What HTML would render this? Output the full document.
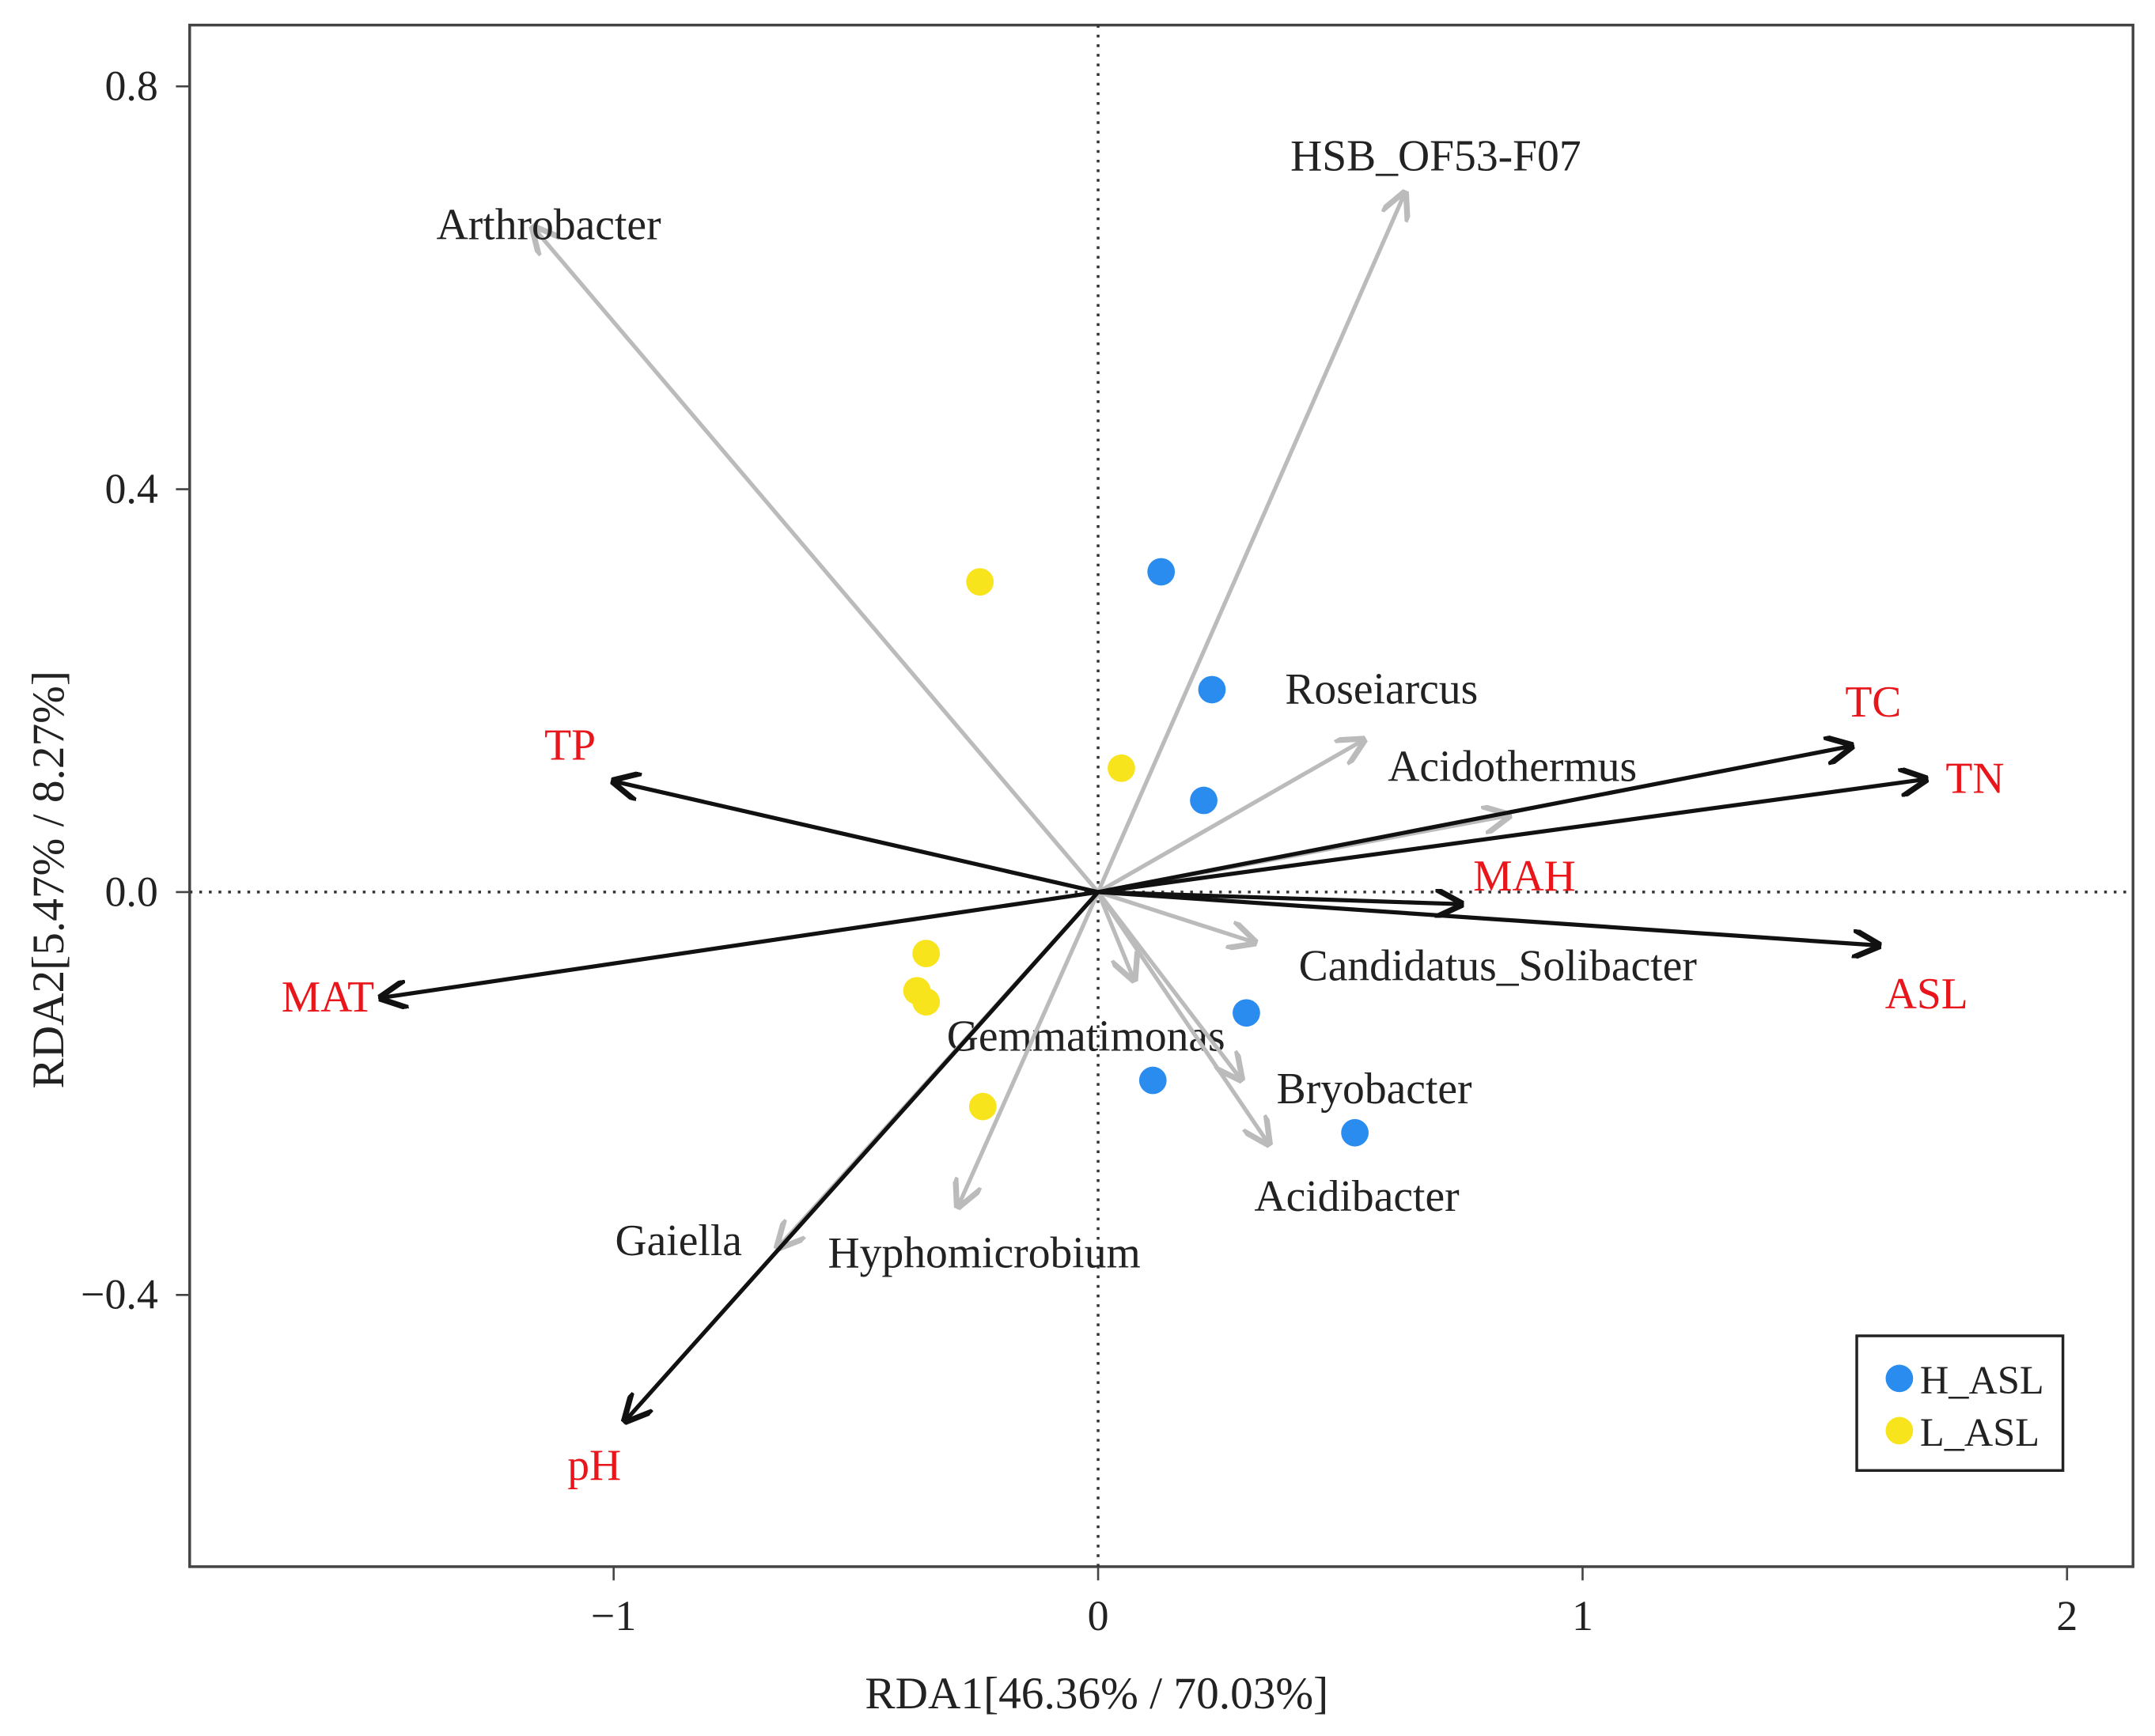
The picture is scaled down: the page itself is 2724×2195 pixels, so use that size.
<!DOCTYPE html>
<html><head><meta charset="utf-8"><style>
html,body{margin:0;padding:0;background:#fff;}
svg{display:block;}
text{font-family:"Liberation Serif",serif;}
</style></head><body>
<svg id="chart" width="2724" height="2195" viewBox="0 0 1568 1263" xmlns="http://www.w3.org/2000/svg">
<defs>
<marker id="ab" viewBox="0 0 10 10" refX="9" refY="5" markerWidth="7" markerHeight="7" orient="auto"><path d="M0,0 L10,5 L0,10" fill="none" stroke="#111" stroke-width="2"/></marker>
<marker id="ag" viewBox="0 0 10 10" refX="9" refY="5" markerWidth="7" markerHeight="7" orient="auto"><path d="M0,0 L10,5 L0,10" fill="none" stroke="#bbb" stroke-width="2"/></marker>
</defs>
<rect x="138" y="18" width="1414" height="1122" fill="#fff" stroke="#444" stroke-width="2"/>
<g id="g"></g>
<text x="798" y="1243" font-size="33" text-anchor="middle" fill="#222">RDA1[46.36% / 70.03%]</text>
<text x="0" y="0" font-size="33" text-anchor="middle" fill="#222" transform="translate(46,640) rotate(-90)">RDA2[5.47% / 8.27%]</text>
<g>
<rect x="1351" y="972" width="150" height="98" fill="#fff" stroke="#222" stroke-width="2"/>
<circle cx="1382" cy="1003" r="10" fill="#2b8cf0"/>
<text x="1397" y="1014" font-size="29" fill="#222">H_ASL</text>
<circle cx="1382" cy="1041" r="10" fill="#f7e41c"/>
<text x="1397" y="1052" font-size="29" fill="#222">L_ASL</text>
</g>
</svg>
<script>
const xTicks=[-1,0,1,2];
const yTicks=[0.8,0.4,0.0,-0.4];
const yTickLabels=["0.8","0.4","0.0","\u22120.4"];
const envNames=["TP","MAT","pH","TC","TN","MAH","ASL"];
const envX=[-1.00,-1.48,-0.976,1.555,1.708,0.749,1.611];
const envY=[0.11,-0.105,-0.525,0.145,0.112,-0.012,-0.053];
const envLabelX=[-1.09,-1.59,-1.04,1.60,1.81,0.88,1.71];
const envLabelY=[0.145,-0.105,-0.57,0.188,0.112,0.015,-0.102];
const spNames=["Arthrobacter","HSB_OF53-F07","Roseiarcus","Acidothermus","Candidatus_Solibacter","Gemmatimonas","Bryobacter","Acidibacter","Hyphomicrobium","Gaiella"];
const spX=[-1.166,0.633,0.548,0.848,0.323,0.074,0.295,0.352,-0.289,-0.661];
const spY=[0.66,0.694,0.151,0.076,-0.05,-0.087,-0.186,-0.25,-0.312,-0.353];
const spLabelX=[-1.134,0.697,0.585,0.855,0.825,-0.025,0.57,0.534,-0.235,-0.866];
const spLabelY=[0.662,0.73,0.201,0.124,-0.074,-0.144,-0.196,-0.303,-0.359,-0.347];
const hX=[0.130,0.235,0.218,0.306,0.113,0.530];
const hY=[0.318,0.201,0.091,-0.120,-0.187,-0.239];
const lX=[-0.244,0.048,-0.355,-0.374,-0.355,-0.238];
const lY=[0.308,0.123,-0.061,-0.098,-0.109,-0.213];

const X0=799,XS=352.5,Y0=649,YS=733;
function sx(v){return X0+XS*v;}
function sy(v){return Y0-YS*v;}
const NS="http://www.w3.org/2000/svg";
const g=document.getElementById('g');
function mk(tag,attrs,name,parent){const e=document.createElementNS(NS,tag);for(const k in attrs)e.setAttribute(k,attrs[k]);


(parent||g).appendChild(e);return e;}
mk('line',{x1:sx(0),y1:18,x2:sx(0),y2:1140,stroke:'#333','stroke-width':2,'stroke-dasharray':'2,5'},'zero-line-vertical');
mk('line',{x1:138,y1:sy(0),x2:1552,y2:sy(0),stroke:'#333','stroke-width':2,'stroke-dasharray':'2,5'},'zero-line-horizontal');
xTicks.forEach((t)=>{mk('line',{x1:sx(t),y1:1140,x2:sx(t),y2:1150,stroke:'#444','stroke-width':1.5},'x-tick');
const tx=mk('text',{x:sx(t),y:1186,'font-size':31,'text-anchor':'middle',fill:'#222'},'x-tick-label');tx.textContent=(t<0?'\u2212':'')+Math.abs(t);});
yTicks.forEach((t,i)=>{mk('line',{x1:128,y1:sy(t),x2:138,y2:sy(t),stroke:'#444','stroke-width':1.5},'y-tick');
const tx=mk('text',{x:115,y:sy(t)+10,'font-size':31,'text-anchor':'end',fill:'#222'},'y-tick-label');tx.textContent=yTickLabels[i];});
spNames.forEach((n,i)=>{mk('line',{x1:sx(0),y1:sy(0),x2:sx(spX[i]),y2:sy(spY[i]),stroke:'#bbb','stroke-width':3,'marker-end':'url(#ag)'},'species-arrow');
const t=mk('text',{x:sx(spLabelX[i]),y:sy(spLabelY[i])+10,'font-size':32,'text-anchor':'middle',fill:'#222'},'species-label');t.textContent=n;});
envNames.forEach((n,i)=>{mk('line',{x1:sx(0),y1:sy(0),x2:sx(envX[i]),y2:sy(envY[i]),stroke:'#111','stroke-width':3,'marker-end':'url(#ab)'},'env-arrow');
const t=mk('text',{x:sx(envLabelX[i]),y:sy(envLabelY[i])+10,'font-size':32,'text-anchor':'middle',fill:'#e8161b'},'env-label');t.textContent=n;});
hX.forEach((v,i)=>{mk('circle',{cx:sx(v),cy:sy(hY[i]),r:10,fill:'#2b8cf0'},'point-h-asl');});
lX.forEach((v,i)=>{mk('circle',{cx:sx(v),cy:sy(lY[i]),r:10,fill:'#f7e41c'},'point-l-asl');});
</script>
</body></html>
